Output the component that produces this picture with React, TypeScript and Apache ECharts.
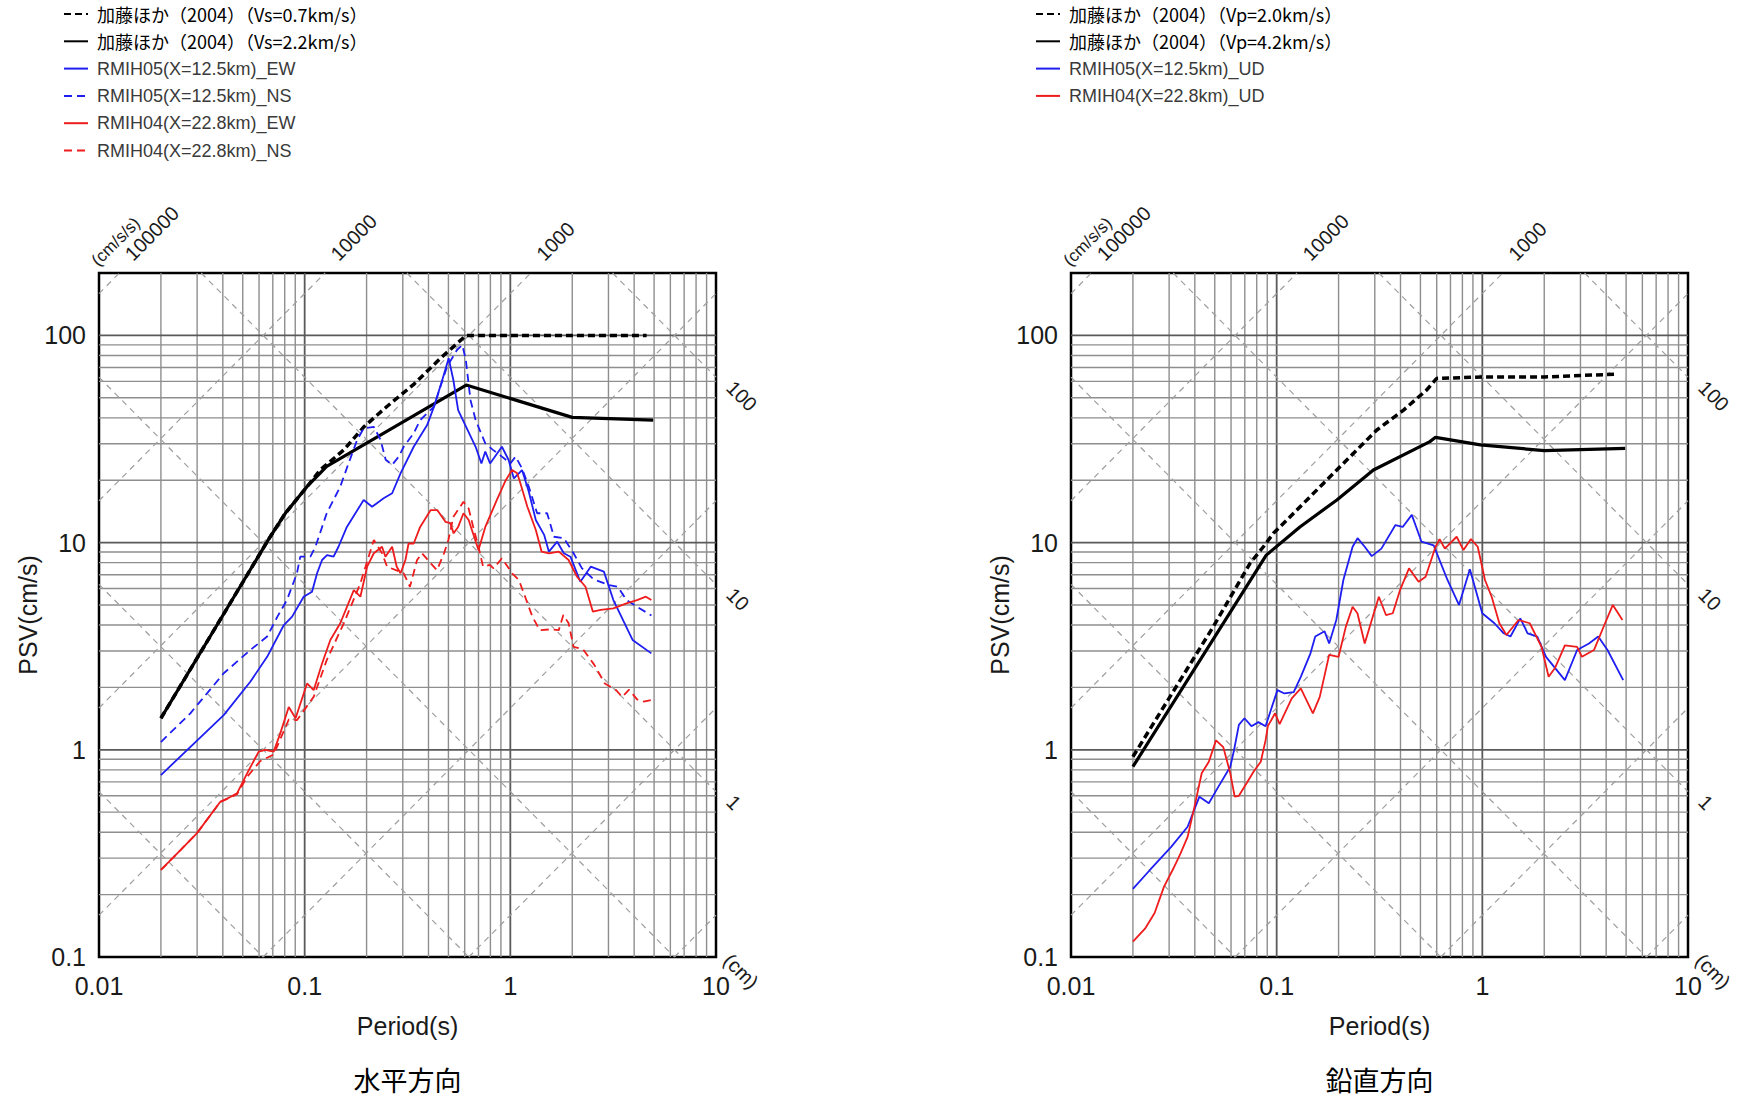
import { useEffect, useRef } from 'react';
import * as echarts from 'echarts';

// ---- axes (log scale) ----
const PERIOD_MIN = 0.01;
const PERIOD_MAX = 10;
const PSV_MIN = 0.1;
const PSV_MAX = 200;
const periodTickLabels = ['0.01', '0.1', '1', '10'];
const psvTickLabels = ['0.1', '1', '10', '100'];

// tripartite guides: constant acceleration (cm/s/s) and constant displacement (cm)
const accelGuides = [0.1, 1, 10, 100, 1000, 10000, 100000];
const dispGuides = [0.001, 0.01, 0.1, 1, 10, 100];
const accelGuideLabels = [100000, 10000, 1000];
const dispGuideLabels = [100, 10, 1];

type Pt = [number, number];

// ---- 水平方向 : [period (s), PSV (cm/s)] ----
const hKatoVs07: Pt[] = [
  [0.02, 1.42], [0.0665, 10.3], [0.0805, 13.85], [0.1026, 18.6], [0.119, 22.4], [0.155, 28.0],
  [0.194, 36.2], [0.252, 45.5], [0.339, 58], [0.457, 77.5], [0.61, 100], [4.6, 100],
];
const hKatoVs22: Pt[] = [
  [0.02, 1.42], [0.0665, 10.3], [0.0805, 13.85], [0.1026, 18.6], [0.128, 23.3], [0.61, 57.6],
  [2.0, 40.2], [4.95, 39.0],
];
const hRmih05EW: Pt[] = [
  [0.02, 0.755], [0.0404, 1.47], [0.0544, 2.13], [0.0657, 2.81], [0.0792, 4.0], [0.0869, 4.39],
  [0.0989, 5.48], [0.1086, 5.79], [0.1149, 7.11], [0.1215, 8.24], [0.1285, 8.71], [0.1382, 8.55],
  [0.146, 9.55], [0.1604, 11.9], [0.1936, 16.06], [0.2128, 14.9], [0.2421, 16.35], [0.2663, 17.3],
  [0.2925, 21.6], [0.339, 29.0], [0.394, 36.9], [0.4255, 45.3], [0.4667, 60.9], [0.5013, 77.5],
  [0.5284, 60.9], [0.5575, 43.6], [0.6095, 36.2], [0.678, 29.0], [0.7235, 24.1], [0.7556, 27.5],
  [0.797, 24.1], [0.91, 29.0], [0.98, 25.1], [1.04, 20.4], [1.14, 22.4], [1.23, 17.6],
  [1.33, 12.85], [1.46, 10.9], [1.54, 9.04], [1.69, 10.1], [1.82, 8.88], [1.96, 8.55],
  [2.19, 6.47], [2.46, 7.65], [2.85, 7.24], [3.17, 5.28], [3.93, 3.39], [4.85, 2.92],
];
const hRmih05NS: Pt[] = [
  [0.02, 1.09], [0.0278, 1.5], [0.0404, 2.34], [0.0544, 3.03], [0.0657, 3.52], [0.0737, 4.39],
  [0.082, 5.28], [0.0917, 7.11], [0.0952, 8.55], [0.1066, 8.55], [0.1128, 9.55], [0.128, 13.85],
  [0.1489, 18.6], [0.1634, 24.1], [0.18, 31.3], [0.1936, 35.6], [0.2169, 36.2], [0.234, 31.3],
  [0.2477, 25.1], [0.2663, 23.7], [0.2868, 26.0], [0.303, 29.0], [0.339, 33.7], [0.3644, 39.0],
  [0.4255, 45.3], [0.457, 56.5], [0.4925, 70.6], [0.55, 85.0], [0.584, 89.9], [0.6076, 76.1],
  [0.64, 48.8], [0.678, 39.0], [0.7556, 30.1], [0.82, 28.1], [0.91, 26.0], [1.0, 24.1],
  [1.06, 26.0], [1.14, 22.8], [1.23, 18.6], [1.35, 13.85], [1.51, 13.85], [1.63, 10.67],
  [1.82, 10.5], [2.03, 8.88], [2.23, 7.51], [2.54, 6.65], [3.02, 6.24], [3.33, 6.12],
  [3.67, 5.28], [4.13, 4.9], [4.85, 4.45],
];
const hRmih04EW: Pt[] = [
  [0.02, 0.263], [0.0249, 0.328], [0.0299, 0.395], [0.0389, 0.561], [0.0419, 0.58], [0.0469, 0.616],
  [0.0525, 0.77], [0.0598, 0.98], [0.0644, 1.0], [0.0707, 0.98], [0.0761, 1.2], [0.0837, 1.61],
  [0.0903, 1.42], [0.1027, 2.09], [0.1106, 1.94], [0.1215, 2.61], [0.1333, 3.39], [0.149, 4.08],
  [0.1733, 5.9], [0.1866, 5.48], [0.2012, 7.65], [0.2169, 8.88], [0.2378, 9.55], [0.247, 8.55],
  [0.2663, 9.55], [0.2803, 7.65], [0.2925, 7.11], [0.309, 8.24], [0.32, 9.9], [0.339, 9.9],
  [0.3644, 11.9], [0.41, 14.35], [0.4412, 14.35], [0.4836, 12.6], [0.511, 12.4], [0.53, 11.08],
  [0.5575, 11.9], [0.592, 13.85], [0.627, 12.85], [0.7, 9.2], [0.7556, 11.9], [0.86, 16.06],
  [0.95, 20.0], [1.02, 22.4], [1.08, 21.6], [1.12, 19.3], [1.21, 14.9], [1.33, 11.5],
  [1.42, 9.04], [1.54, 8.88], [1.72, 9.04], [1.92, 8.24], [2.11, 6.84], [2.32, 6.12],
  [2.52, 4.64], [2.75, 4.73], [3.17, 4.81], [3.67, 5.09], [4.13, 5.28], [4.56, 5.48], [4.85, 5.28],
];
const hRmih04NS: Pt[] = [
  [0.02, 0.263], [0.0249, 0.328], [0.0299, 0.395], [0.0389, 0.561], [0.0469, 0.61], [0.0525, 0.74],
  [0.0607, 0.88], [0.0707, 0.95], [0.0837, 1.4], [0.0917, 1.39], [0.1106, 1.8], [0.128, 2.71],
  [0.155, 4.08], [0.1866, 6.36], [0.2169, 10.3], [0.2378, 8.88], [0.2517, 7.65], [0.303, 7.11],
  [0.325, 6.12], [0.352, 8.24], [0.372, 8.88], [0.41, 7.94], [0.44, 7.36], [0.476, 8.88],
  [0.5, 10.3], [0.528, 13.3], [0.592, 15.75], [0.627, 14.6], [0.66, 11.9], [0.7, 9.55],
  [0.737, 7.65], [0.794, 7.8], [0.829, 7.51], [0.91, 8.4], [1.02, 7.11], [1.1, 6.6],
  [1.18, 5.48], [1.28, 4.39], [1.39, 3.78], [1.56, 3.81], [1.72, 3.78], [1.81, 4.47],
  [1.92, 4.08], [2.03, 3.14], [2.26, 3.05], [2.56, 2.57], [2.88, 2.09], [3.25, 1.95],
  [3.5, 1.8], [3.78, 1.95], [4.13, 1.75], [4.45, 1.71], [4.85, 1.74],
];

// ---- 鉛直方向 ----
const vKatoVp20: Pt[] = [
  [0.02, 0.926], [0.0492, 3.93], [0.0742, 7.94], [0.0862, 9.55], [0.0964, 11.08], [0.1253, 14.35],
  [0.1687, 19.3], [0.2276, 26.0], [0.307, 34.95], [0.414, 43.6], [0.536, 54.5], [0.6, 62],
  [1.0, 63], [2.0, 63], [4.5, 65],
];
const vKatoVp42: Pt[] = [
  [0.02, 0.829], [0.089, 8.7], [0.1297, 11.9], [0.1962, 16.06], [0.2954, 22.4], [0.556, 30.7],
  [0.592, 32.2], [0.978, 29.6], [2.0, 27.8], [4.95, 28.5],
];
const vRmih05UD: Pt[] = [
  [0.02, 0.213], [0.0242, 0.263], [0.0307, 0.34], [0.0369, 0.425], [0.0421, 0.594], [0.0468, 0.552],
  [0.0521, 0.664], [0.0595, 0.829], [0.0621, 1.0], [0.0655, 1.32], [0.0697, 1.42], [0.0754, 1.3],
  [0.0815, 1.36], [0.0883, 1.3], [0.1009, 1.94], [0.1091, 1.87], [0.121, 1.9], [0.131, 2.25],
  [0.146, 2.92], [0.154, 3.52], [0.171, 3.73], [0.18, 3.26], [0.195, 4.23], [0.211, 6.6],
  [0.234, 9.55], [0.2474, 10.5], [0.268, 9.55], [0.29, 8.6], [0.323, 9.35], [0.378, 12.15],
  [0.41, 11.9], [0.454, 13.6], [0.506, 10.1], [0.58, 9.7], [0.677, 6.6], [0.77, 5.0],
  [0.87, 7.43], [0.999, 4.56], [1.145, 4.08], [1.27, 3.65], [1.37, 3.52], [1.53, 4.31],
  [1.66, 3.65], [1.85, 3.52], [2.04, 2.81], [2.52, 2.17], [2.89, 3.03], [3.3, 3.26],
  [3.66, 3.52], [4.06, 3.03], [4.84, 2.17],
];
const vRmih04UD: Pt[] = [
  [0.02, 0.1186], [0.0229, 0.137], [0.0255, 0.163], [0.0283, 0.218], [0.0315, 0.268], [0.0341, 0.316],
  [0.0369, 0.38], [0.0399, 0.535], [0.0432, 0.77], [0.0468, 0.876], [0.0507, 1.11], [0.055, 1.03],
  [0.0595, 0.77], [0.0625, 0.594], [0.0655, 0.6], [0.0714, 0.689], [0.0773, 0.785], [0.0837, 0.876],
  [0.0883, 1.11], [0.0906, 1.3], [0.0982, 1.5], [0.1034, 1.33], [0.1184, 1.77], [0.131, 1.98],
  [0.15, 1.5], [0.162, 1.8], [0.18, 2.87], [0.2, 2.81], [0.217, 3.93], [0.234, 4.9],
  [0.247, 4.56], [0.268, 3.26], [0.29, 4.23], [0.314, 5.48], [0.34, 4.47], [0.367, 4.56],
  [0.398, 5.9], [0.44, 7.51], [0.49, 6.47], [0.53, 6.84], [0.592, 9.55], [0.62, 10.4],
  [0.657, 9.35], [0.75, 10.67], [0.81, 9.2], [0.88, 10.4], [0.95, 9.55], [1.03, 6.6],
  [1.11, 5.48], [1.21, 4.08], [1.31, 3.58], [1.5, 4.23], [1.7, 4.08], [1.94, 3.14],
  [2.1, 2.25], [2.26, 2.49], [2.52, 3.19], [2.89, 3.14], [3.05, 2.81], [3.49, 3.03],
  [3.86, 3.86], [4.31, 5.0], [4.8, 4.23],
];

// ---- layout ----
const W = 1739;
const H = 1097;
const GRID_TOP = 273;
const GRID_W = 617;
const GRID_H = 684;
const GRID_LEFTS = [99, 1071];
const TITLE_Y = 1079;

const LATIN = '"Liberation Sans", Arial, sans-serif';
const CJK = '"Noto Sans CJK JP", sans-serif';
const BLUE = '#1e1ef2';
const RED = '#ee1c1c';
const TWO_PI = 2 * Math.PI;

const tickText = (v: number, labels: string[], offset: number) => {
  const e = Math.log10(v);
  const r = Math.round(e);
  if (Math.abs(e - r) > 1e-6) return '';
  return labels[r + offset] ?? '';
};

// segments [t1, psv1, t2, psv2, kind]; kind 0 minor, 1 decade, 2 tripartite dashed
function guideSegments(): number[][] {
  const segs: number[][] = [];
  for (let e = -2; e <= 0; e++) {
    for (let k = 1; k <= 9; k++) {
      const t = k * Math.pow(10, e);
      if (t <= PERIOD_MIN * 1.0001) continue;
      segs.push([t, PSV_MIN, t, PSV_MAX, k === 1 ? 1 : 0]);
    }
  }
  for (let e = -1; e <= 2; e++) {
    for (let k = 1; k <= 9; k++) {
      const v = k * Math.pow(10, e);
      if (v <= PSV_MIN * 1.0001 || v >= PSV_MAX * 0.9999) continue;
      segs.push([PERIOD_MIN, v, PERIOD_MAX, v, k === 1 ? 1 : 0]);
    }
  }
  accelGuides.forEach((a) => {
    const t0 = Math.max(PERIOD_MIN, (TWO_PI * PSV_MIN) / a);
    const t1 = Math.min(PERIOD_MAX, (TWO_PI * PSV_MAX) / a);
    if (t1 > t0) segs.push([t0, (a * t0) / TWO_PI, t1, (a * t1) / TWO_PI, 2]);
  });
  dispGuides.forEach((d) => {
    const t0 = Math.max(PERIOD_MIN, (TWO_PI * d) / PSV_MAX);
    const t1 = Math.min(PERIOD_MAX, (TWO_PI * d) / PSV_MIN);
    if (t1 > t0) segs.push([t0, (TWO_PI * d) / t0, t1, (TWO_PI * d) / t1, 2]);
  });
  return segs;
}

type Note = { at: Pt; text: string; kind: 'acc' | 'accUnit' | 'disp' | 'dispUnit' };
function guideNotes(): Note[] {
  const notes: Note[] = [];
  accelGuideLabels.forEach((a) => notes.push({ at: [(TWO_PI * PSV_MAX) / a, PSV_MAX], text: String(a), kind: 'acc' }));
  notes.push({ at: [(TWO_PI * PSV_MAX) / accelGuideLabels[0], PSV_MAX], text: '(cm/s/s)', kind: 'accUnit' });
  dispGuideLabels.forEach((d) => notes.push({ at: [PERIOD_MAX, (TWO_PI * d) / PERIOD_MAX], text: String(d), kind: 'disp' }));
  notes.push({ at: [PERIOD_MAX, PSV_MIN], text: '(cm)', kind: 'dispUnit' });
  return notes;
}

const segStyles = [
  { stroke: '#8e8e8e', lineWidth: 1.4 },
  { stroke: '#5a5a5a', lineWidth: 1.8 },
  { stroke: '#9e9e9e', lineWidth: 1.2, lineDash: [6, 5] },
];

const noteLayout: Record<Note['kind'], { dx: number; dy: number; rot: number; va: string; size: number }> = {
  acc: { dx: 16, dy: -9, rot: Math.PI / 4, va: 'bottom', size: 20 },
  accUnit: { dx: -19, dy: -4, rot: Math.PI / 4, va: 'bottom', size: 17 },
  disp: { dx: 14, dy: 7, rot: -Math.PI / 4, va: 'middle', size: 20 },
  dispUnit: { dx: 11, dy: 0, rot: -Math.PI / 4, va: 'middle', size: 20 },
};

function buildOption() {
  const segs = guideSegments();
  const notes = guideNotes();

  const lineSeries = (name: string, data: Pt[], gi: number, color: string, width: number, dash?: number[]) => ({
    type: 'line',
    name,
    xAxisIndex: gi,
    yAxisIndex: gi,
    data,
    symbol: 'none',
    silent: true,
    z: 3,
    color,
    itemStyle: { color },
    lineStyle: { color, width, type: dash ?? 'solid' },
  });

  const leftNames = [
    '加藤ほか（2004）（Vs=0.7km/s）',
    '加藤ほか（2004）（Vs=2.2km/s）',
    'RMIH05(X=12.5km)_EW',
    'RMIH05(X=12.5km)_NS',
    'RMIH04(X=22.8km)_EW',
    'RMIH04(X=22.8km)_NS',
  ];
  const rightNames = [
    '加藤ほか（2004）（Vp=2.0km/s）',
    '加藤ほか（2004）（Vp=4.2km/s）',
    'RMIH05(X=12.5km)_UD',
    'RMIH04(X=22.8km)_UD',
  ];
  const legendItem = (name: string) =>
    name.startsWith('加藤')
      ? { name, textStyle: { fontFamily: CJK, fontSize: 18, lineHeight: 18, color: '#000', padding: [0, 0, 0, 4] } }
      : { name, textStyle: { fontFamily: LATIN, fontSize: 18, lineHeight: 18, color: '#3a3a3a', padding: [0, 0, 0, 4] } };

  // legend shows the line stroke only (no marker dot)
  const legendBase = {
    top: 5,
    padding: 0,
    orient: 'vertical',
    itemWidth: 24,
    itemHeight: 14,
    itemGap: 9.3,
    selectedMode: false,
    itemStyle: { color: 'rgba(0,0,0,0)', borderWidth: 0, opacity: 0 },
  };

  const gridSeries = GRID_LEFTS.map((_, gi) => ({
    type: 'custom',
    xAxisIndex: gi,
    yAxisIndex: gi,
    silent: true,
    z: 1,
    encode: { x: [0, 2], y: [1, 3] },
    data: segs,
    renderItem: (_p: any, api: any) => {
      const a = api.coord([api.value(0), api.value(1)]);
      const b = api.coord([api.value(2), api.value(3)]);
      return {
        type: 'line',
        shape: { x1: a[0], y1: a[1], x2: b[0], y2: b[1] },
        style: segStyles[api.value(4)],
      };
    },
  }));

  const noteSeries = GRID_LEFTS.map((_, gi) => ({
    type: 'custom',
    xAxisIndex: gi,
    yAxisIndex: gi,
    silent: true,
    z: 4,
    clip: false,
    encode: { x: 0, y: 1 },
    data: notes.map((n) => n.at),
    renderItem: (p: any, api: any) => {
      const n = notes[p.dataIndex];
      const c = api.coord(n.at);
      const l = noteLayout[n.kind];
      return {
        type: 'text',
        x: c[0] + l.dx,
        y: c[1] + l.dy,
        rotation: l.rot,
        style: {
          text: n.text,
          fill: '#1a1a1a',
          fontSize: l.size,
          fontFamily: LATIN,
          align: 'left',
          verticalAlign: l.va,
        },
      };
    },
  }));

  const titleText = (text: string, gi: number) => ({
    type: 'text',
    x: GRID_LEFTS[gi] + GRID_W / 2,
    y: TITLE_Y,
    style: { text, fontFamily: CJK, fontSize: 27, fill: '#000', align: 'center', verticalAlign: 'middle' },
  });

  return {
    animation: false,
    backgroundColor: '#fff',
    grid: GRID_LEFTS.map((left) => ({
      left,
      top: GRID_TOP,
      width: GRID_W,
      height: GRID_H,
      show: true,
      borderColor: '#000',
      borderWidth: 2.5,
      backgroundColor: 'transparent',
      containLabel: false,
      outerBoundsMode: 'none',
    })),
    xAxis: GRID_LEFTS.map((_, gi) => ({
      type: 'log',
      logBase: 10,
      gridIndex: gi,
      min: PERIOD_MIN,
      max: PERIOD_MAX,
      name: 'Period(s)',
      nameLocation: 'middle',
      nameGap: 56,
      nameTextStyle: { fontFamily: LATIN, fontSize: 25, color: '#1a1a1a' },
      axisLine: { show: false },
      axisTick: { show: false },
      splitLine: { show: false },
      axisLabel: {
        margin: 16,
        fontFamily: LATIN,
        fontSize: 25,
        color: '#1a1a1a',
        formatter: (v: number) => tickText(v, periodTickLabels, 2),
      },
    })),
    yAxis: GRID_LEFTS.map((_, gi) => ({
      type: 'log',
      logBase: 10,
      gridIndex: gi,
      min: PSV_MIN,
      max: PSV_MAX,
      name: 'PSV(cm/s)',
      nameLocation: 'middle',
      nameGap: 59,
      nameTextStyle: { fontFamily: LATIN, fontSize: 25, color: '#1a1a1a' },
      axisLine: { show: false },
      axisTick: { show: false },
      splitLine: { show: false },
      axisLabel: {
        margin: 13,
        fontFamily: LATIN,
        fontSize: 25,
        color: '#1a1a1a',
        formatter: (v: number) => tickText(v, psvTickLabels, 1),
      },
    })),
    legend: [
      { ...legendBase, left: 63, data: leftNames.map(legendItem) },
      { ...legendBase, left: 1035, data: rightNames.map(legendItem) },
    ],
    graphic: [titleText('水平方向', 0), titleText('鉛直方向', 1)],
    series: [
      ...gridSeries,
      lineSeries(leftNames[0], hKatoVs07, 0, '#000', 3.5, [7, 4]),
      lineSeries(leftNames[1], hKatoVs22, 0, '#000', 3.2),
      lineSeries(leftNames[2], hRmih05EW, 0, BLUE, 1.8),
      lineSeries(leftNames[3], hRmih05NS, 0, BLUE, 1.8, [8, 5]),
      lineSeries(leftNames[4], hRmih04EW, 0, RED, 1.8),
      lineSeries(leftNames[5], hRmih04NS, 0, RED, 1.8, [8, 5]),
      lineSeries(rightNames[0], vKatoVp20, 1, '#000', 3.5, [7, 4]),
      lineSeries(rightNames[1], vKatoVp42, 1, '#000', 3.2),
      lineSeries(rightNames[2], vRmih05UD, 1, BLUE, 1.8),
      lineSeries(rightNames[3], vRmih04UD, 1, RED, 1.8),
      ...noteSeries,
    ],
  };
}

export default function App() {
  const ref = useRef<HTMLDivElement>(null);
  useEffect(() => {
    const el = ref.current;
    if (!el) return;
    const chart = echarts.init(el, null, { renderer: 'svg' });
    chart.setOption(buildOption() as any);
    return () => chart.dispose();
  }, []);
  return (
    <div
      ref={ref}
      style={{ position: 'fixed', left: 0, top: 0, width: W, height: H, background: '#fff' }}
    />
  );
}
